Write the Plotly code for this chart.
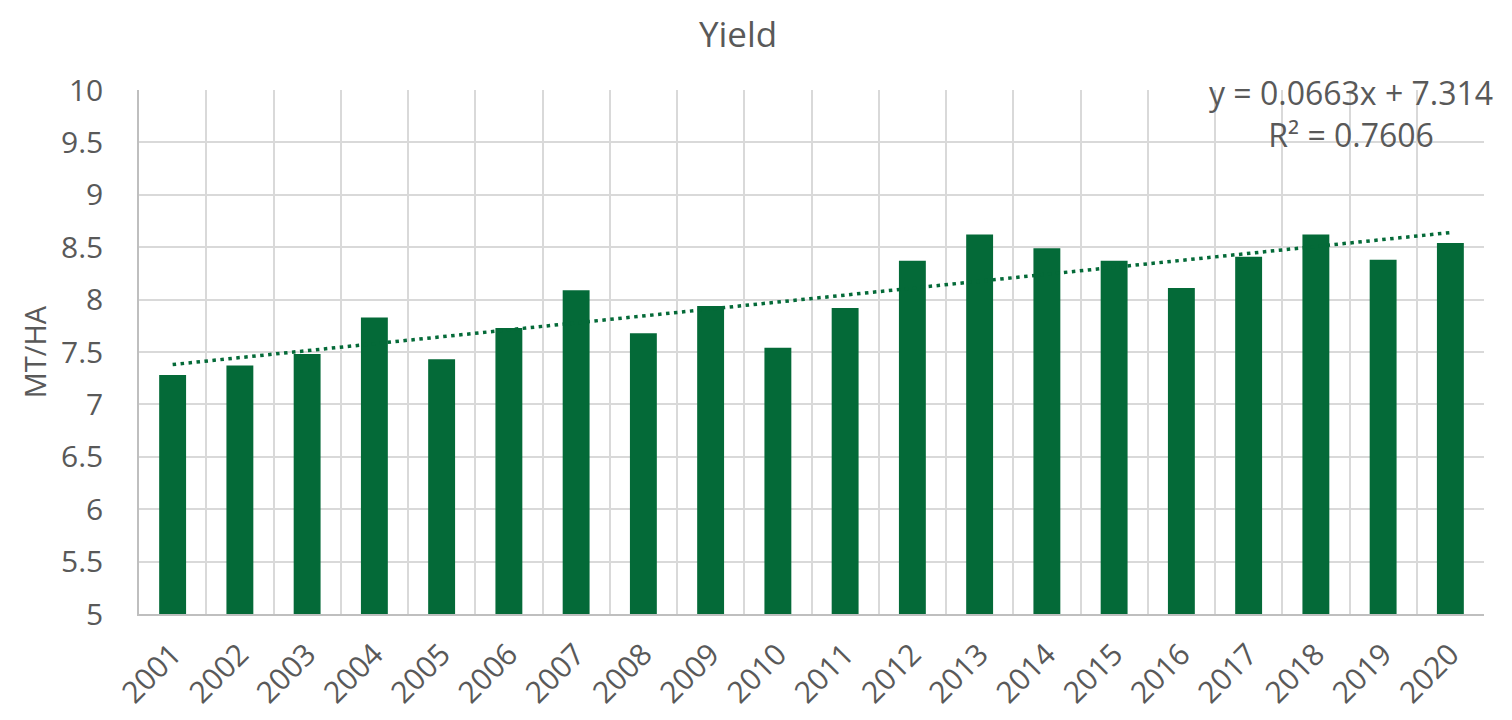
import numpy as np
import plotly.graph_objects as go

years = [str(y) for y in range(2001, 2021)]
yield_vals = [7.28, 7.37, 7.48, 7.83, 7.43, 7.73, 8.09, 7.68, 7.94, 7.54,
              7.92, 8.37, 8.62, 8.49, 8.37, 8.11, 8.41, 8.62, 8.38, 8.54]
y_ticks = [5, 5.5, 6, 6.5, 7, 7.5, 8, 8.5, 9, 9.5, 10]
equation_text = "y = 0.0663x + 7.314"
r2_text = "R² = 0.7606"

GREEN = "#046A38"
TXT = "#595959"
GRID = "#D9D9D9"
FONT = "Open Sans"

idx = np.arange(1, len(years) + 1)
slope, intercept = np.polyfit(idx, yield_vals, 1)
trend = slope * idx + intercept

fig = go.Figure()
fig.add_trace(go.Bar(x=years, y=yield_vals, marker=dict(color=GREEN, line=dict(width=0)),
                     name="Yield", showlegend=False))
fig.add_trace(go.Scatter(x=years, y=trend, mode="lines",
                         line=dict(color=GREEN, width=3.5, dash="3.5px,4.5px"),
                         showlegend=False, hoverinfo="skip"))

fig.update_layout(
    width=1504, height=712,
    paper_bgcolor="white", plot_bgcolor="white",
    margin=dict(l=131, r=28, t=82, b=106),
    bargap=0.6,
    font=dict(family=FONT, color=TXT, size=30),
    title=dict(text="Yield", x=0.4854, xref="container", xanchor="center",
               y=0.962, yref="container", yanchor="middle",
               font=dict(family=FONT, size=35, color=TXT)),
    xaxis=dict(type="category", tickson="boundaries", showgrid=True, gridcolor=GRID, gridwidth=1.5,
               showline=True, linecolor="#BFBFBF", linewidth=1.5, mirror=False, automargin=False,
               ticks="", tickangle=-45, ticklabelstandoff=9,
               tickfont=dict(size=30, color=TXT)),
    yaxis=dict(range=[5, 10], tickvals=y_ticks, showgrid=True, gridcolor=GRID, gridwidth=1.5,
               showline=True, linecolor="#BFBFBF", linewidth=1.5, zeroline=False, automargin=False,
               ticks="", ticklabelstandoff=28, tickfont=dict(size=30, color=TXT),
               title=dict(text="MT/HA", font=dict(size=29, color=TXT), standoff=6)),
)

fig.add_annotation(text=equation_text + "<br>" + r2_text, xref="paper", yref="paper",
                   x=0.901, y=0.955, xanchor="center", yanchor="middle", showarrow=False,
                   align="center", font=dict(family=FONT, size=32, color=TXT))

fig.write_html("out.html")
